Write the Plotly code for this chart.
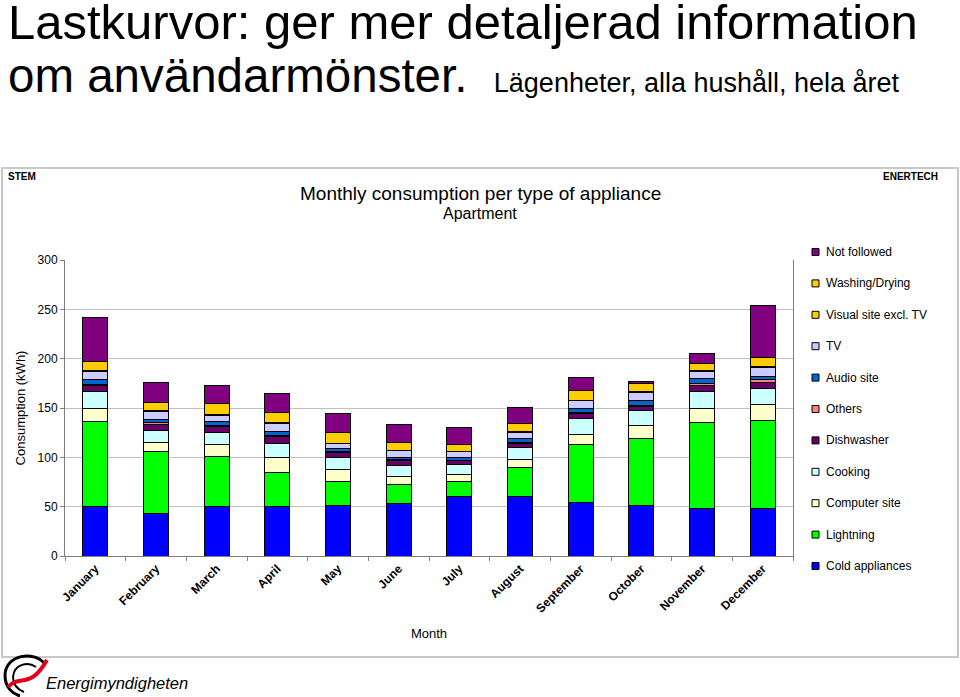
import plotly.graph_objects as go

months = ["January", "February", "March", "April", "May", "June", "July",
          "August", "September", "October", "November", "December"]

# Series (stacked bottom -> top), kWh per month
cold_appliances = [50, 43, 50, 50, 51.5, 53.5, 60, 60, 54, 51, 48.5, 48.5]
lightning       = [86, 63, 51, 34.5, 24, 19, 16, 29.5, 59, 68, 87, 88.5]
computer_site   = [14, 9, 12.5, 15, 12, 8.5, 7, 8.5, 10.5, 13, 14, 16.5]
cooking         = [16.5, 12.5, 12, 14.5, 12.5, 10.5, 10, 12, 15.5, 15, 17.5, 16.5]
dishwasher      = [6, 6, 5.5, 7, 4.5, 5, 3.5, 4.5, 5.5, 5, 5.5, 6]
others          = [1, 1.5, 1, 1, 1, 1, 0.5, 0.5, 0.5, 1, 2, 2.5]
audio_site      = [5, 3, 4, 4, 3, 2.5, 3, 4, 5, 4.5, 5, 3.5]
tv              = [9, 8.5, 6.5, 8, 5.5, 6.5, 5.5, 6.5, 7.5, 8.5, 8, 9.5]
visual_site     = [1, 0.5, 1, 1, 0.5, 0.5, 0.5, 0.5, 0.5, 0.5, 0.5, 0.5]
washing_drying  = [9, 9, 11, 10, 10.5, 8.5, 7, 8.5, 10, 8, 7, 9]
not_followed    = [44, 20, 18, 20, 19.5, 18, 17, 16.5, 12.5, 2.5, 10, 53]

series_names = ["Cold appliances", "Lightning", "Computer site", "Cooking", "Dishwasher",
                "Others", "Audio site", "TV", "Visual site excl. TV", "Washing/Drying",
                "Not followed"]
series_values = [cold_appliances, lightning, computer_site, cooking, dishwasher, others,
                 audio_site, tv, visual_site, washing_drying, not_followed]
series_colors = ["#0000FF", "#00FF00", "#FFFFCC", "#CCFFFF", "#660066", "#FF8080",
                 "#0066CC", "#CCCCFF", "#FFCC00", "#FFCC00", "#800080"]

y_ticks = [0, 50, 100, 150, 200, 250, 300]

# Plot area in pixels
L, R, T, B = 65, 793, 260, 556
W, H = 960, 697


def px(x):
    return (x - L) / (R - L)


def py(y):
    return (B - y) / (B - T)


def P(x, y):
    return f"{px(x):.5f},{py(y):.5f}"


fig = go.Figure()
for name, vals, col in zip(series_names, series_values, series_colors):
    fig.add_trace(go.Bar(x=months, y=vals, name=name, showlegend=False,
                         marker=dict(color=col, line=dict(color="#000000", width=1))))

shapes = []
annotations = []

# Outer chart frame
shapes.append(dict(type="rect", xref="paper", yref="paper",
                   x0=px(2), x1=px(958), y0=py(657), y1=py(168),
                   line=dict(color="#C8C8C8", width=2), layer="below"))

# Manual legend (top = last series)
leg_names = list(reversed(series_names))
leg_colors = list(reversed(series_colors))
for i, (n, c) in enumerate(zip(leg_names, leg_colors)):
    yc = 252 + i * 31.4
    shapes.append(dict(type="rect", xref="paper", yref="paper",
                       x0=px(812), x1=px(819), y0=py(yc + 3.5), y1=py(yc - 3.5),
                       fillcolor=c, line=dict(color="#000000", width=1)))
    annotations.append(dict(x=px(824), y=py(yc), xref="paper", yref="paper",
                            text=n, showarrow=False, xanchor="left", yanchor="middle",
                            font=dict(size=12, color="#000000",
                                      family="Liberation Sans, Arial")))

# Headline text
annotations.append(dict(x=px(6), y=py(-7), xref="paper", yref="paper",
                        text="Lastkurvor: ger mer detaljerad information",
                        showarrow=False, xanchor="left", yanchor="top",
                        font=dict(size=49, color="#000000", family="Liberation Sans, Arial")))
annotations.append(dict(x=px(6), y=py(47), xref="paper", yref="paper",
                        text="om användarmönster.&nbsp; <span style='font-size:27px'>Lägenheter, alla hushåll, hela året</span>",
                        showarrow=False, xanchor="left", yanchor="top",
                        font=dict(size=47.5, color="#000000", family="Liberation Sans, Arial")))

# Chart header texts
annotations.append(dict(x=px(6), y=py(177), xref="paper", yref="paper", text="<b>STEM</b>",
                        showarrow=False, xanchor="left", yanchor="middle",
                        font=dict(size=10, color="#000000", family="Liberation Sans Narrow, Liberation Sans")))
annotations.append(dict(x=px(940), y=py(177), xref="paper", yref="paper", text="<b>ENERTECH</b>",
                        showarrow=False, xanchor="right", yanchor="middle",
                        font=dict(size=10, color="#000000", family="Liberation Sans Narrow, Liberation Sans")))
annotations.append(dict(x=px(480), y=py(193), xref="paper", yref="paper",
                        text="Monthly consumption per type of appliance",
                        showarrow=False, xanchor="center", yanchor="middle",
                        font=dict(size=19, color="#000000", family="Liberation Sans, Arial")))
annotations.append(dict(x=px(480), y=py(214), xref="paper", yref="paper",
                        text="Apartment",
                        showarrow=False, xanchor="center", yanchor="middle",
                        font=dict(size=16, color="#000000", family="Liberation Sans, Arial")))

# Logo
annotations.append(dict(x=px(44), y=py(683), xref="paper", yref="paper",
                        text="<i>Energimyndigheten</i>",
                        showarrow=False, xanchor="left", yanchor="middle",
                        font=dict(size=16.5, color="#000000", family="Liberation Sans, Arial")))
shapes.append(dict(type="path", xref="paper", yref="paper",
                   path=f"M{P(44,663)} C{P(34,651)} {P(6,654)} {P(5,675)} C{P(5,688)} {P(13,694)} {P(20,696)}",
                   line=dict(color="#000000", width=3)))
shapes.append(dict(type="path", xref="paper", yref="paper",
                   path=f"M{P(36,667)} C{P(28,661)} {P(14,664)} {P(13,677)} C{P(13,686)} {P(19,690)} {P(24,692)}",
                   line=dict(color="#000000", width=2)))
shapes.append(dict(type="path", xref="paper", yref="paper",
                   path=f"M{P(8,687)} C{P(20,674)} {P(30,690)} {P(47,660)}",
                   line=dict(color="#E0001B", width=4)))

fig.update_layout(
    width=W, height=H,
    margin=dict(l=L, r=W - R, t=T, b=H - B),
    paper_bgcolor="#FFFFFF", plot_bgcolor="#FFFFFF",
    barmode="stack", bargap=0.59,
    showlegend=False,
    font=dict(family="Liberation Sans, Arial", color="#000000"),
    shapes=shapes, annotations=annotations,
    xaxis=dict(categoryorder="array", categoryarray=months, tickangle=-45,
               tickfont=dict(size=12, family="Liberation Sans, Arial", color="#000000", weight="bold"),
               showline=True, linecolor="#808080", linewidth=1,
               ticks="outside", tickson="boundaries", ticklen=4, tickcolor="#808080",
               title=dict(text="Month", font=dict(size=13), standoff=14)),
    yaxis=dict(range=[0, 300], tickvals=y_ticks, showgrid=True, gridcolor="#C0C0C0",
               showline=True, linecolor="#808080", mirror=True, zeroline=False,
               ticks="outside", ticklen=4, tickcolor="#808080",
               tickfont=dict(size=12, color="#000000"),
               title=dict(text="Consumption (kWh)", font=dict(size=13), standoff=9)),
)

fig.write_html("out.html", config={"displayModeBar": False},
               post_script="document.body.style.margin='0px';document.body.style.overflow='hidden';")
